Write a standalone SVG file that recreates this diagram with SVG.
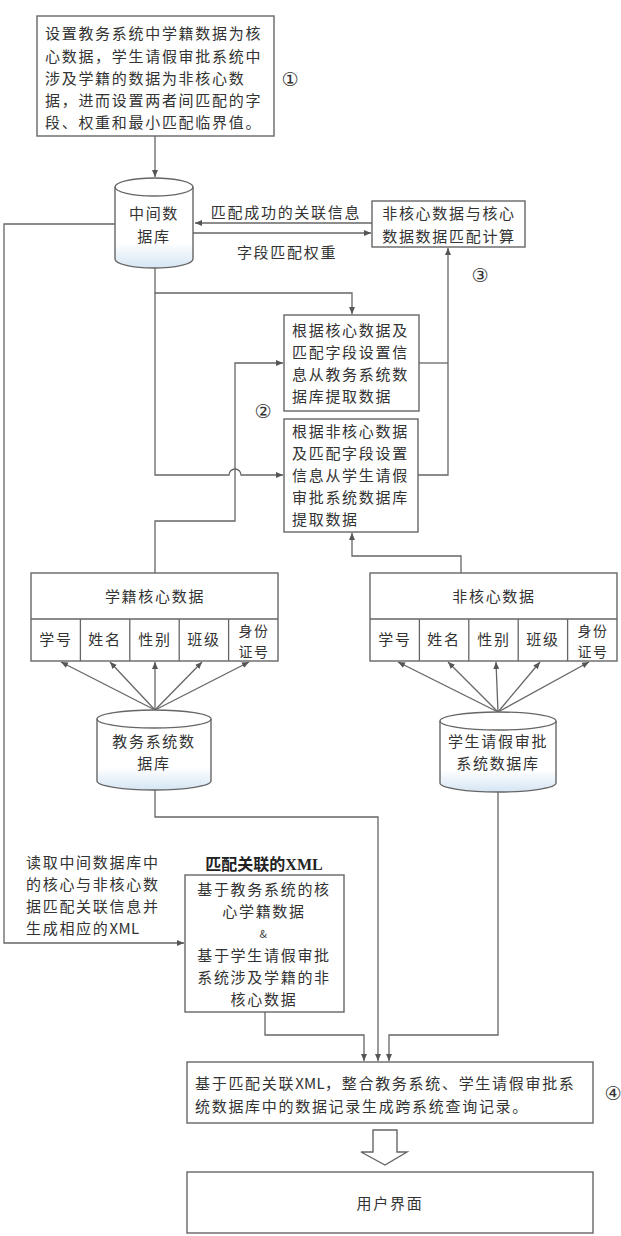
<svg xmlns="http://www.w3.org/2000/svg" width="621" height="1236" viewBox="0 0 621 1236">
<style>
.bx{fill:#fff;stroke:#666;stroke-width:1.4}
.db{fill:url(#dbg);stroke:#666;stroke-width:1.4}
.ln{fill:none;stroke:#666;stroke-width:1.3}
.t{font-family:"Noto Sans CJK SC","Liberation Sans",sans-serif;font-size:15px;fill:#333;letter-spacing:1.7px}
.s{font-size:14px;letter-spacing:1.5px}
.c{text-anchor:middle}
.lat{letter-spacing:0.3px}
.num{font-family:"DejaVu Sans","Noto Sans CJK SC",sans-serif;font-size:19px;fill:#333;text-anchor:middle}
.ttl{font-family:"Liberation Serif","Noto Sans CJK SC",serif;font-size:16px;font-weight:bold;fill:#222;text-anchor:middle}
</style>
<defs>
<marker id="ah" markerWidth="8" markerHeight="8" refX="7" refY="4" orient="auto" markerUnits="userSpaceOnUse">
<path d="M0,1 L7,4 L0,7 Z" fill="#555"/>
</marker>
<linearGradient id="dbg" x1="0" y1="0" x2="0" y2="1">
<stop offset="0" stop-color="#fff"/>
<stop offset="0.72" stop-color="#fff"/>
<stop offset="1" stop-color="#d5e5f4"/>
</linearGradient>
</defs>

<g id="connectors">
<path class="ln" d="M155,136 V177" marker-end="url(#ah)"/>
<path class="ln" d="M372,223 H195" marker-end="url(#ah)"/>
<path class="ln" d="M193,233 H371" marker-end="url(#ah)"/>
<path class="ln" d="M115,224 H4 V943 H184" marker-end="url(#ah)"/>
<path class="ln" d="M155,268 V293 H352 V314" marker-end="url(#ah)"/>
<path class="ln" d="M155,293 V475 H229 A6,6 0 0 1 241,475 H283" marker-end="url(#ah)"/>
<path class="ln" d="M419,363 H448"/>
<path class="ln" d="M418,475 H448 V248" marker-end="url(#ah)"/>
<path class="ln" d="M155,573 V521 H235 V363 H283" marker-end="url(#ah)"/>
<path class="ln" d="M461,573 V556 H352 V533" marker-end="url(#ah)"/>
<path class="ln" d="M155,710 L61,662" marker-end="url(#ah)"/>
<path class="ln" d="M155,710 L110,662" marker-end="url(#ah)"/>
<path class="ln" d="M155,710 L155,662" marker-end="url(#ah)"/>
<path class="ln" d="M155,710 L202,662" marker-end="url(#ah)"/>
<path class="ln" d="M155,710 L249,662" marker-end="url(#ah)"/>
<path class="ln" d="M498,712 L398,662" marker-end="url(#ah)"/>
<path class="ln" d="M498,712 L448,662" marker-end="url(#ah)"/>
<path class="ln" d="M498,712 L496,662" marker-end="url(#ah)"/>
<path class="ln" d="M498,712 L540,662" marker-end="url(#ah)"/>
<path class="ln" d="M498,712 L589,662" marker-end="url(#ah)"/>
<path class="ln" d="M155,790 V817 H378 V1061" marker-end="url(#ah)"/>
<path class="ln" d="M498,792 V1035 H389 V1061" marker-end="url(#ah)"/>
<path class="ln" d="M265,1012 V1035 H364 V1061" marker-end="url(#ah)"/>
</g>

<g id="n1">
<rect class="bx" x="37" y="16" width="237" height="120"/>
<text class="t" x="45" y="39">设置教务系统中学籍数据为核</text>
<text class="t" x="45" y="62">心数据，学生请假审批系统中</text>
<text class="t" x="45" y="84">涉及学籍的数据为非核心数</text>
<text class="t" x="45" y="106">据，进而设置两者间匹配的字</text>
<text class="t" x="45" y="128">段、权重和最小匹配临界值。</text>
<text class="num" x="290" y="86">①</text>
</g>

<g id="db-mid">
<path class="db" d="M115,187 A39,9 0 0 1 193,187 V259 A39,9 0 0 1 115,259 Z"/>
<path class="ln" d="M115,187 A39,9 0 0 0 193,187"/>
<text class="t c" x="154" y="219">中间数</text>
<text class="t c" x="154" y="242">据库</text>
</g>

<g id="lbl-arrows">
<text class="t c" x="286" y="218">匹配成功的关联信息</text>
<text class="t c" x="287" y="258">字段匹配权重</text>
</g>

<g id="n-calc">
<rect class="bx" x="372" y="201" width="153" height="46"/>
<text class="t c" x="449" y="219">非核心数据与核心</text>
<text class="t c" x="449" y="242">数据数据匹配计算</text>
<text class="num" x="480" y="282">③</text>
</g>

<g id="n-a">
<rect class="bx" x="284" y="315" width="135" height="96"/>
<text class="t" x="292" y="336">根据核心数据及</text>
<text class="t" x="292" y="358">匹配字段设置信</text>
<text class="t" x="292" y="380">息从教务系统数</text>
<text class="t" x="292" y="402">据库提取数据</text>
</g>

<text class="num" x="263" y="418">②</text>

<g id="n-b">
<rect class="bx" x="284" y="419" width="134" height="113"/>
<text class="t" x="292" y="437">根据非核心数据</text>
<text class="t" x="292" y="459">及匹配字段设置</text>
<text class="t" x="292" y="481">信息从学生请假</text>
<text class="t" x="292" y="503">审批系统数据库</text>
<text class="t" x="292" y="525">提取数据</text>
</g>

<g id="tbl-core">
<rect class="bx" x="31" y="573" width="247" height="88"/>
<path class="ln" d="M31,619 H278 M80.4,619 V661 M129.8,619 V661 M179.2,619 V661 M228.6,619 V661"/>
<text class="t c" x="155" y="602">学籍核心数据</text>
<text class="t c" x="56" y="645">学号</text>
<text class="t c" x="105" y="645">姓名</text>
<text class="t c" x="155" y="645">性别</text>
<text class="t c" x="204" y="645">班级</text>
<text class="t s c" x="254" y="636">身份</text>
<text class="t s c" x="254" y="657">证号</text>
</g>

<g id="tbl-noncore">
<rect class="bx" x="370" y="573" width="247" height="88"/>
<path class="ln" d="M370,619 H617 M419.4,619 V661 M468.8,619 V661 M518.2,619 V661 M567.6,619 V661"/>
<text class="t c" x="494" y="602">非核心数据</text>
<text class="t c" x="395" y="645">学号</text>
<text class="t c" x="444" y="645">姓名</text>
<text class="t c" x="494" y="645">性别</text>
<text class="t c" x="543" y="645">班级</text>
<text class="t s c" x="593" y="636">身份</text>
<text class="t s c" x="593" y="657">证号</text>
</g>

<g id="db-edu">
<path class="db" d="M97,719 A57,9 0 0 1 211,719 V781 A57,9 0 0 1 97,781 Z"/>
<path class="ln" d="M97,719 A57,9 0 0 0 211,719"/>
<text class="t c" x="154" y="747">教务系统数</text>
<text class="t c" x="154" y="769">据库</text>
</g>

<g id="db-leave">
<path class="db" d="M440,721 A58,9 0 0 1 556,721 V783 A58,9 0 0 1 440,783 Z"/>
<path class="ln" d="M440,721 A58,9 0 0 0 556,721"/>
<text class="t c" x="498" y="747">学生请假审批</text>
<text class="t c" x="498" y="769">系统数据库</text>
</g>

<g id="lbl-read">
<text class="t" x="26" y="868">读取中间数据库中</text>
<text class="t" x="26" y="890">的核心与非核心数</text>
<text class="t" x="26" y="912">据匹配关联信息并</text>
<text class="t" x="26" y="934">生成相应的<tspan class="lat">XML</tspan></text>
</g>

<g id="n-xml">
<text class="ttl" x="264" y="870">匹配关联的XML</text>
<rect class="bx" x="185" y="875" width="159" height="137"/>
<text class="t c" x="264" y="895">基于教务系统的核</text>
<text class="t c" x="264" y="917">心学籍数据</text>
<text class="t c" x="264" y="938" style="font-size:11px">&amp;</text>
<text class="t c" x="264" y="961">基于学生请假审批</text>
<text class="t c" x="264" y="983">系统涉及学籍的非</text>
<text class="t c" x="264" y="1005">核心数据</text>
</g>

<g id="n-merge">
<rect class="bx" x="187" y="1062" width="406" height="61"/>
<text class="t" x="195" y="1089">基于匹配关联<tspan class="lat">XML</tspan>，整合教务系统、学生请假审批系</text>
<text class="t" x="195" y="1112">统数据库中的数据记录生成跨系统查询记录。</text>
<text class="num" x="613" y="1100">④</text>
</g>

<polygon class="bx" points="373,1130 397,1130 397,1152 407,1152 385,1165 361,1152 373,1152"/>

<g id="n-ui">
<rect class="bx" x="187" y="1172" width="406" height="61"/>
<text class="t c" x="390" y="1209">用户界面</text>
</g>
</svg>
